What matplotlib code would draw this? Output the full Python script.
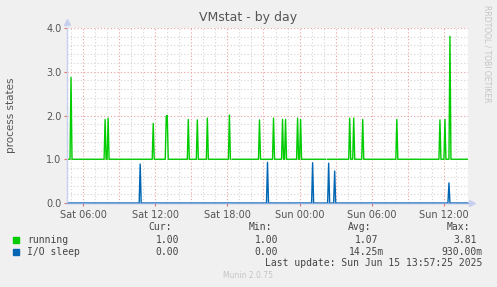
#!/usr/bin/env python3
"""Munin style VMstat day graph."""

import matplotlib

matplotlib.use("Agg")
import matplotlib.pyplot as plt
import numpy as np

# time axis: hours since Sat 00:00, one sample every 5 minutes
START_H = 4 + 40 / 60
N_SAMPLES = 401
STEP_H = 5 / 60

tick_hours = [6, 12, 18, 24, 30, 36]
tick_labels = ["Sat 06:00", "Sat 12:00", "Sat 18:00", "Sun 00:00", "Sun 06:00", "Sun 12:00"]

running_base = 1.0
running_spike_h = [5.0, 7.83, 8.11, 11.86, 12.89, 12.97, 14.78, 15.53, 16.36, 18.2,
                   20.69, 21.86, 22.61, 22.86, 23.86, 24.11, 28.19, 28.53, 29.28,
                   32.08, 35.69, 36.11, 36.53]
running_spike_v = [2.87, 1.91, 1.94, 1.82, 1.98, 2.0, 1.91, 1.90, 1.94, 2.01,
                   1.90, 1.94, 1.91, 1.91, 1.94, 1.91, 1.94, 1.94, 1.91,
                   1.91, 1.90, 1.91, 3.81]
running_gap_h = [18.3, 26.25]

io_base = 0.0
io_spike_h = [10.78, 21.36, 25.08, 26.44, 26.94, 36.44]
io_spike_v = [0.89, 0.93, 0.92, 0.91, 0.73, 0.46]

legend_rows = [
    ("running", "#00cc00", ["1.00", "1.00", "1.07", "3.81"]),
    ("I/O sleep", "#0066b3", ["0.00", "0.00", "14.25m", "930.00m"]),
]


def _build(base, spike_h, spike_v, gap_h=()):
    t = START_H + np.arange(N_SAMPLES) * STEP_H
    y = np.full(N_SAMPLES, base, dtype=float)
    for h, v in zip(spike_h, spike_v):
        y[int(round((h - START_H) / STEP_H))] = v
    for h in gap_h:
        y[int(round((h - START_H) / STEP_H))] = np.nan
    return t, y


W, H = 497, 287
fig = plt.figure(figsize=(W / 100, H / 100), dpi=100, facecolor="#f0f0f0")
x0, x1, y0, y1 = 67, 468, 28, 203
ax = fig.add_axes([x0 / W, 1 - y1 / H, (x1 - x0) / W, (y1 - y0) / H])
ax.set_facecolor("white")

t_end = START_H + (N_SAMPLES - 1) * STEP_H
ax.set_xlim(START_H, t_end)
ax.set_ylim(0, 4)

# grid
dot = (0, (1, 2))
for h in np.arange(5, 39, 1):
    if START_H < h < t_end:
        major = h % 3 == 0
        ax.axvline(h, color="#eaa0a0" if major else "#d4d4d4", lw=0.8, ls=dot, zorder=0.5)
for v in np.arange(0.2, 4.01, 0.2):
    major = abs(v - round(v)) < 1e-6
    ax.axhline(v, color="#eaa0a0" if major else "#d4d4d4", lw=0.8, ls=dot, zorder=0.5)

t, running = _build(running_base, running_spike_h, running_spike_v, running_gap_h)
ax.plot(t, running, color="#00cc00", lw=1.0, zorder=3)
t, io = _build(io_base, io_spike_h, io_spike_v)
ax.plot(t, io, color="#0066b3", lw=1.0, zorder=3)

for s in ("top", "right"):
    ax.spines[s].set_visible(False)
ax.spines["left"].set_color("#c8d0f0")
ax.spines["bottom"].set_color("#88a8dc")
for s in ("left", "bottom"):
    ax.spines[s].set_linewidth(1.0)
    ax.spines[s].set_zorder(4)
ax.plot([0], [1.035], marker="^", ms=5, color="#c8d0f0", transform=ax.transAxes, clip_on=False)
ax.plot([1.01], [0], marker=">", ms=5, color="#c8d0f0", transform=ax.transAxes, clip_on=False)

ax.set_xticks(tick_hours)
ax.set_xticklabels(tick_labels)
ax.set_yticks([0, 1, 2, 3, 4])
ax.set_yticklabels(["0.0", "1.0", "2.0", "3.0", "4.0"])
ax.tick_params(axis="both", labelsize=7, colors="#e07070", labelcolor="#555555", length=2, pad=2)
ax.tick_params(axis="x", pad=3)

ax.set_ylabel("process states", fontsize=7.5, color="#555555", labelpad=22)
fig.text(248 / W, 1 - 18 / H, "VMstat - by day", ha="center", va="center", fontsize=9, color="#555555")
fig.text(487 / W, 1 - 5 / H, "RRDTOOL / TOBI OETIKER", rotation=-90, ha="center", va="top",
         fontsize=5.5, color="#c4c4c4")

mono = {"family": "DejaVu Sans Mono", "fontsize": 7, "color": "#444444"}
for label, right in zip(["Cur:", "Min:", "Avg:", "Max:"], [172, 272, 371, 470]):
    fig.text(right / W, 1 - 227 / H, label, ha="right", va="center", **mono)
value_right = [179, 278, 378, 477]
for i, (name, col, vals) in enumerate(legend_rows):
    yy = 240 + 12 * i
    fig.patches.append(plt.Rectangle((13 / W, 1 - (yy + 3) / H), 6 / W, 6 / H,
                                     transform=fig.transFigure, color=col))
    fig.text(27 / W, 1 - yy / H, name, ha="left", va="center", **mono)
    for v, r in zip(vals, value_right):
        off = 6 if v.endswith("m") else 0
        fig.text((r + off) / W, 1 - yy / H, v, ha="right", va="center", **mono)
fig.text(482 / W, 1 - 263 / H, "Last update: Sun Jun 15 13:57:25 2025", ha="right", va="center", **mono)
fig.text(248 / W, 1 - 276 / H, "Munin 2.0.75", ha="center", va="center", fontsize=5.5, color="#c4c4c4")

fig.savefig("out.png", dpi=100, facecolor=fig.get_facecolor())
